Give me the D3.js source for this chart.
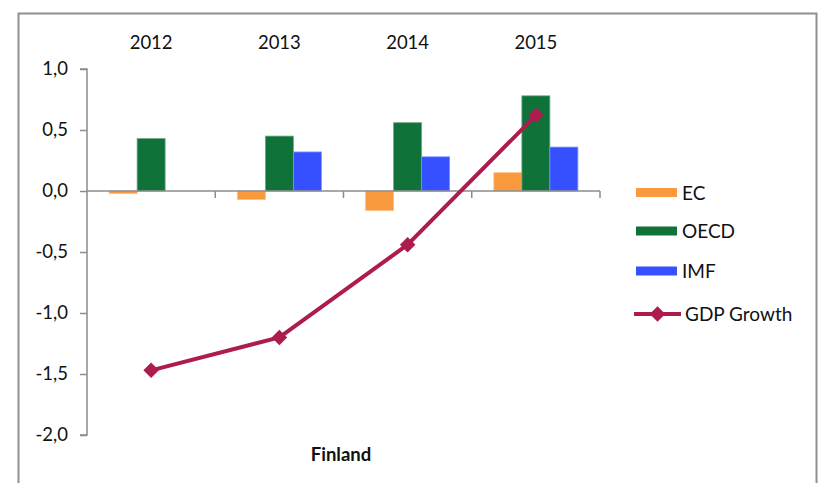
<!DOCTYPE html>
<html>
<head>
<meta charset="utf-8">
<script src="https://cdn.jsdelivr.net/npm/d3@7"></script>
<style>
  html, body { margin: 0; padding: 0; background: #fff; }
  svg { display: block; font-family: Lato, "Open Sans", sans-serif; }
</style>
</head>
<body>
<svg id="chart" width="819" height="483"></svg>
<script>
// Forecast revisions and GDP growth, Finland
const years = ["2012", "2013", "2014", "2015"];
const seriesNames = ["EC", "OECD", "IMF"];
const ecValues = [-0.02, -0.07, -0.16, 0.15];
const oecdValues = [0.43, 0.45, 0.56, 0.78];
const imfValues = [null, 0.32, 0.28, 0.36];
const gdpGrowth = [-1.47, -1.20, -0.44, 0.62];
const yTicks = [1.0, 0.5, 0.0, -0.5, -1.0, -1.5, -2.0];
const lineName = "GDP Growth";
const chartTitle = "Finland";

const colors = { EC: "#F99A3F", OECD: "#0F7238", IMF: "#3450FF" };
const strokes = { EC: "#FBBE86", OECD: "#6FA884", IMF: "#7E90FF" };
const lineColor = "#AE1B4D";

const svg = d3.select("#chart");

// outer frame
svg.append("rect")
  .attr("x", 18.5).attr("y", 13.5)
  .attr("width", 798).attr("height", 500)
  .attr("fill", "none").attr("stroke", "#8f8f8f").attr("stroke-width", 2);

const x0 = d3.scaleBand().domain(years).range([87, 600]).padding(0);
const x1 = d3.scaleBand().domain(seriesNames).range([0, x0.bandwidth()])
  .paddingInner(0).paddingOuter(0.79);
const y = d3.scaleLinear().domain([-2, 1]).range([435, 69]);

const valuesBySeries = { EC: ecValues, OECD: oecdValues, IMF: imfValues };
const barData = [];
years.forEach((yr, i) => {
  seriesNames.forEach(s => {
    const v = valuesBySeries[s][i];
    if (v !== null) barData.push({ year: yr, series: s, value: v });
  });
});

// bars
svg.append("g").selectAll("rect").data(barData).join("rect")
  .attr("x", d => x0(d.year) + x1(d.series))
  .attr("width", x1.bandwidth())
  .attr("y", d => y(Math.max(0, d.value)))
  .attr("height", d => Math.abs(y(d.value) - y(0)))
  .attr("fill", d => colors[d.series])
  .attr("stroke", d => strokes[d.series])
  .attr("stroke-width", 0.8);

// y axis
const yAxis = d3.axisLeft(y).tickValues(yTicks)
  .tickSize(7).tickPadding(12)
  .tickFormat(d => d3.format(".1f")(d).replace(".", ",").replace("−", "-"));
const gy = svg.append("g").attr("transform", "translate(87,0)").call(yAxis);
gy.select(".domain").attr("stroke", "#8c8c8c").attr("stroke-width", 1.5)
  .attr("d", `M-7,${y(1)}H0V${y(-2)}H-7`);
gy.selectAll(".tick line").attr("stroke", "#8c8c8c").attr("stroke-width", 1.5);
gy.selectAll(".tick text").attr("font-size", 18.5).attr("fill", "#111")
  .attr("font-family", "Lato, sans-serif");

// category axis along zero
const gx = svg.append("g").attr("transform", `translate(0,${y(0)})`);
gx.append("line").attr("x1", x0.range()[0]).attr("x2", x0.range()[1])
  .attr("y1", 0).attr("y2", 0).attr("stroke", "#8c8c8c").attr("stroke-width", 1.5);
const boundaries = years.map(yr => x0(yr) + x0.bandwidth());
gx.selectAll("line.tk").data(boundaries).join("line").attr("class", "tk")
  .attr("x1", d => d).attr("x2", d => d).attr("y1", 0).attr("y2", 7)
  .attr("stroke", "#8c8c8c").attr("stroke-width", 1.5);

// year labels along the top
svg.append("g").selectAll("text").data(years).join("text")
  .attr("x", d => x0(d) + x0.bandwidth() / 2)
  .attr("y", 49)
  .attr("text-anchor", "middle")
  .attr("font-size", 18.5).attr("fill", "#111")
  .text(d => d);

// GDP growth line with diamond markers
const marker = d3.symbol().type(d3.symbolSquare).size(120);
const linePts = years.map((yr, i) => [x0(yr) + x0.bandwidth() / 2, y(gdpGrowth[i])]);
svg.append("path")
  .attr("d", d3.line()(linePts))
  .attr("fill", "none").attr("stroke", lineColor)
  .attr("stroke-width", 4).attr("stroke-linejoin", "round");
svg.append("g").selectAll("path").data(linePts).join("path")
  .attr("transform", d => `translate(${d[0]},${d[1]}) rotate(45)`)
  .attr("d", marker)
  .attr("fill", lineColor);

// chart title
svg.append("text").attr("x", 341).attr("y", 461)
  .attr("text-anchor", "middle").attr("font-size", 18.5)
  .attr("font-weight", "bold").attr("fill", "#111")
  .text(chartTitle);

// legend
const legend = svg.append("g");
const legendRows = [
  { name: "EC", cy: 192.5 },
  { name: "OECD", cy: 231 },
  { name: "IMF", cy: 271 }
];
legendRows.forEach(r => {
  legend.append("rect").attr("x", 636).attr("y", r.cy - 4.5)
    .attr("width", 41).attr("height", 9).attr("fill", colors[r.name]);
  legend.append("text").attr("x", 682).attr("y", r.cy + 7)
    .attr("font-size", 19).attr("fill", "#111").text(r.name);
});
const lineRowY = 314;
legend.append("line").attr("x1", 634).attr("x2", 681)
  .attr("y1", lineRowY).attr("y2", lineRowY)
  .attr("stroke", lineColor).attr("stroke-width", 4);
legend.append("path")
  .attr("transform", `translate(657.5,${lineRowY}) rotate(45)`)
  .attr("d", marker)
  .attr("fill", lineColor);
legend.append("text").attr("x", 685).attr("y", lineRowY + 7)
  .attr("font-size", 19).attr("fill", "#111").text(lineName);
</script>
</body>
</html>
